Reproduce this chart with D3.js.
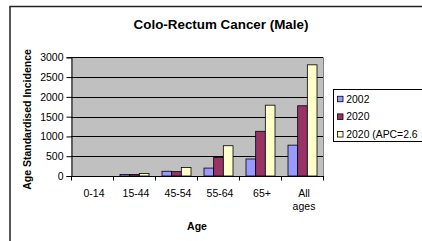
<!DOCTYPE html>
<html><head><meta charset="utf-8">
<script src="https://cdn.jsdelivr.net/npm/d3@7"></script>
<style>html,body{margin:0;padding:0;background:#fff;}svg{display:block;font-family:"Liberation Sans",Arial,sans-serif;}</style>
</head><body>
<script>
const categories = ["0-14","15-44","45-54","55-64","65+","All ages"];
const seriesNames = ["2002","2020","2020 (APC=2.6"];
const values2002 = [0, 40, 120, 200, 430, 780];
const values2020 = [0, 40, 110, 470, 1130, 1775];
const valuesAPC  = [0, 65, 215, 765, 1790, 2810];
const yTicks = [0,500,1000,1500,2000,2500,3000];
const colors = ["#9999FF","#993366","#FFFFCC"];

const W=422,H=241;
const svg=d3.select("body").append("svg").attr("width",W).attr("height",H);
svg.append("rect").attr("width",W).attr("height",H).attr("fill","#fff");
// outer border
svg.append("path").attr("d","M10,"+(H+2)+"V6.5H"+(W+2)).attr("fill","none").attr("stroke","#222").attr("stroke-width",1.5);

const pl=71,pr=323,pt=57.3,pb=176;
const x0=d3.scaleBand().domain(categories).range([pl,pr]).padding(0);
const x1=d3.scaleBand().domain(seriesNames).range([6.5,x0.bandwidth()-6.5]);
const y=d3.scaleLinear().domain([0,3000]).range([pb,pt]);

svg.append("rect").attr("x",pl).attr("y",pt).attr("width",pr-pl).attr("height",pb-pt).attr("fill","#C0C0C0");
// gridlines
svg.append("g").selectAll("line").data(yTicks.slice(1)).join("line")
 .attr("x1",pl).attr("x2",pr).attr("y1",d=>Math.round(y(d))+0.5).attr("y2",d=>Math.round(y(d))+0.5)
 .attr("stroke","#000").attr("stroke-width",1);
svg.append("line").attr("x1",pr+0.5).attr("x2",pr+0.5).attr("y1",pt).attr("y2",pb).attr("stroke","#808080");

const seriesVals=[values2002,values2020,valuesAPC];
const g=svg.append("g");
seriesVals.forEach((vals,si)=>{
  g.append("g").selectAll("rect").data(categories).join("rect")
   .attr("x",c=>x0(c)+x1(seriesNames[si])+0.5)
   .attr("y",(c,i)=>y(vals[i]))
   .attr("width",x1.bandwidth())
   .attr("height",(c,i)=>pb-y(vals[i]))
   .attr("fill",colors[si]).attr("stroke","#000").attr("stroke-width",0.8);
});

// y axis
const ya=svg.append("g").attr("transform","translate("+(pl+0.5)+",0)")
 .call(d3.axisLeft(y).tickValues(yTicks).tickSize(5).tickPadding(3).tickFormat(d3.format("d")));
ya.select(".domain").attr("stroke","#000");
ya.selectAll("text").attr("font-size","10.5px").attr("fill","#000").attr("font-family","Liberation Sans, Arial, sans-serif");
// x axis
const xa=svg.append("g").attr("transform","translate(0,"+(pb+0.5)+")");
xa.append("line").attr("x1",pl).attr("x2",pr+1).attr("stroke","#000");
const bounds=categories.map(c=>x0(c)).concat([pr]);
xa.selectAll("line.t").data(bounds).join("line").attr("class","t")
 .attr("x1",d=>Math.round(d)+0.5).attr("x2",d=>Math.round(d)+0.5).attr("y1",0).attr("y2",4).attr("stroke","#000");
xa.selectAll("text.c").data(categories).join("text").attr("class","c")
 .attr("x",c=>x0(c)+x0.bandwidth()/2+2).attr("y",20.5).attr("text-anchor","middle")
 .attr("font-size","10.5px").attr("fill","#000")
 .each(function(c){
   const parts=c==="All ages"?c.split(" "):[c];
   d3.select(this).selectAll("tspan").data(parts).join("tspan")
     .attr("x",x0(c)+x0.bandwidth()/2+2).attr("dy",(d,i)=>i?12.8:0).text(d=>d);
 });

// titles
svg.append("text").attr("x",221).attr("y",28.5).attr("text-anchor","middle").attr("font-weight","bold").attr("font-size","13.4px").text("Colo-Rectum Cancer (Male)");
svg.append("text").attr("x",197).attr("y",230).attr("text-anchor","middle").attr("font-weight","bold").attr("font-size","10.5px").text("Age");
svg.append("text").attr("transform","translate(31,119.5) rotate(-90)").attr("text-anchor","middle").attr("font-weight","bold").attr("font-size","10.5px").text("Age Standardised Incidence");

// legend
const lg=svg.append("g");
lg.append("rect").attr("x",333.5).attr("y",89.5).attr("width",100).attr("height",52).attr("fill","#fff").attr("stroke","#000");
seriesNames.forEach((s,i)=>{
  const cy=99+i*17.65;
  lg.append("rect").attr("x",337.5).attr("y",cy-2.75).attr("width",5.5).attr("height",5.5).attr("fill",colors[i]).attr("stroke","#000").attr("stroke-width",0.8);
  lg.append("text").attr("x",346.3).attr("y",cy+3.8).attr("font-size","10.4px").text(s);
});
</script>
</body></html>
